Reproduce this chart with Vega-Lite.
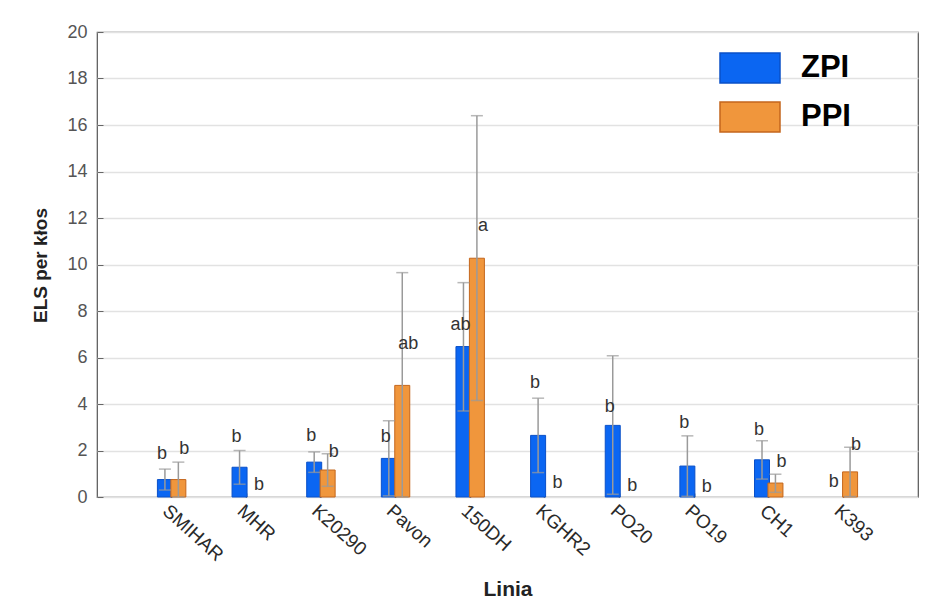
{
  "$schema": "https://vega.github.io/schema/vega-lite/v6.json",
  "width": 821,
  "height": 465,
  "autosize": {"type": "none"},
  "padding": {"left": 97, "top": 32, "right": 16, "bottom": 111},
  "background": "white",
  "config": {
    "view": {"stroke": "#555", "strokeWidth": 1.2},
    "font": "Liberation Sans"
  },
  "data": {
    "values": [
      {"linia": "SMIHAR", "grupa": "ZPI", "mean": 0.75, "lo": 0.3, "hi": 1.2, "lit": "b", "ly": 1.85},
      {"linia": "SMIHAR", "grupa": "PPI", "mean": 0.75, "lo": 0.0, "hi": 1.5, "lit": "b", "ly": 2.07},
      {"linia": "MHR", "grupa": "ZPI", "mean": 1.28, "lo": 0.55, "hi": 2.0, "lit": "b", "ly": 2.57},
      {"linia": "MHR", "grupa": "PPI", "mean": 0, "lo": null, "hi": null, "lit": "b", "ly": 0.52},
      {"linia": "K20290", "grupa": "ZPI", "mean": 1.5, "lo": 1.06, "hi": 1.94, "lit": "b", "ly": 2.62},
      {"linia": "K20290", "grupa": "PPI", "mean": 1.16, "lo": 0.46, "hi": 1.86, "lit": "b", "ly": 1.94},
      {"linia": "Pavon", "grupa": "ZPI", "mean": 1.66, "lo": 0.05, "hi": 3.28, "lit": "b", "ly": 2.58},
      {"linia": "Pavon", "grupa": "PPI", "mean": 4.8, "lo": 0.0, "hi": 9.65, "lit": "ab", "ly": 6.6},
      {"linia": "150DH", "grupa": "ZPI", "mean": 6.47, "lo": 3.7, "hi": 9.22, "lit": "ab", "ly": 7.4},
      {"linia": "150DH", "grupa": "PPI", "mean": 10.27, "lo": 4.15, "hi": 16.4, "lit": "a", "ly": 11.65},
      {"linia": "KGHR2", "grupa": "ZPI", "mean": 2.65, "lo": 1.05, "hi": 4.25, "lit": "b", "ly": 4.9},
      {"linia": "KGHR2", "grupa": "PPI", "mean": 0, "lo": null, "hi": null, "lit": "b", "ly": 0.6},
      {"linia": "PO20", "grupa": "ZPI", "mean": 3.08, "lo": 0.12, "hi": 6.07, "lit": "b", "ly": 3.87},
      {"linia": "PO20", "grupa": "PPI", "mean": 0, "lo": null, "hi": null, "lit": "b", "ly": 0.47},
      {"linia": "PO19", "grupa": "ZPI", "mean": 1.33, "lo": 0.03, "hi": 2.63, "lit": "b", "ly": 3.18},
      {"linia": "PO19", "grupa": "PPI", "mean": 0, "lo": null, "hi": null, "lit": "b", "ly": 0.43},
      {"linia": "CH1", "grupa": "ZPI", "mean": 1.6, "lo": 0.77, "hi": 2.42, "lit": "b", "ly": 2.9},
      {"linia": "CH1", "grupa": "PPI", "mean": 0.6, "lo": 0.2, "hi": 0.98, "lit": "b", "ly": 1.5},
      {"linia": "K393", "grupa": "ZPI", "mean": 0, "lo": null, "hi": null, "lit": "b", "ly": 0.65},
      {"linia": "K393", "grupa": "PPI", "mean": 1.08, "lo": 0.02, "hi": 2.14, "lit": "b", "ly": 2.24}
    ]
  },
  "encoding": {
    "x": {
      "field": "linia",
      "type": "nominal",
      "sort": ["SMIHAR", "MHR", "K20290", "Pavon", "150DH", "KGHR2", "PO20", "PO19", "CH1", "K393"],
      "scale": {"paddingInner": 0.64, "paddingOuter": 0.82},
      "axis": {
        "title": "Linia",
        "titleFontSize": 21,
        "titleFontWeight": "bold",
        "titleColor": "#222",
        "titleY": 81,
        "labelAngle": 42,
        "labelAlign": "left",
        "labelBaseline": "top",
        "labelFontSize": 19,
        "labelColor": "#2a2a2a",
        "labelPadding": 8,
        "ticks": true,
        "tickSize": -4,
        "tickColor": "#222",
        "tickWidth": 1.5,
        "domain": false,
        "grid": false
      }
    },
    "xOffset": {"field": "grupa", "type": "nominal", "sort": ["ZPI", "PPI"], "scale": {"paddingInner": 0, "paddingOuter": 0}}
  },
  "layer": [
    {
      "transform": [{"filter": "datum.mean > 0"}],
      "mark": {"type": "bar", "width": 15, "strokeWidth": 1},
      "encoding": {
        "y": {
          "field": "mean",
          "type": "quantitative",
          "title": "ELS per kłos",
          "scale": {"domain": [0, 20], "nice": false},
          "axis": {
            "titleFontSize": 19,
            "titleFontWeight": "bold",
            "titleColor": "#222",
            "titleX": -47,
            "titleY": 233,
            "values": [0, 2, 4, 6, 8, 10, 12, 14, 16, 18, 20],
            "labelFontSize": 18,
            "labelColor": "#555",
            "labelPadding": 16,
            "ticks": true,
            "tickSize": -6,
            "tickColor": "#666",
            "tickWidth": 1,
            "domain": false,
            "grid": true,
            "gridColor": "#e2e2e2",
            "gridWidth": 1.5
          }
        },
        "color": {
          "field": "grupa",
          "type": "nominal",
          "scale": {"domain": ["ZPI", "PPI"], "range": ["#0b66f2", "#f0963c"]},
          "legend": {
            "title": null,
            "orient": "none",
            "legendX": 622,
            "legendY": 5,
            "symbolType": "M-1,-0.5H1V0.5H-1Z",
            "symbolSize": 3600,
            "symbolStrokeColor": "#111",
            "symbolStrokeWidth": 1.5,
            "symbolOpacity": 1,
            "labelFontSize": 31,
            "labelFontWeight": "bold",
            "labelColor": "#000",
            "labelOffset": 20,
            "rowPadding": -1,
            "padding": 0
          }
        },
        "stroke": {
          "field": "grupa",
          "type": "nominal",
          "scale": {"domain": ["ZPI", "PPI"], "range": ["#0a50c8", "#c4661c"]},
          "legend": null
        }
      }
    },
    {
      "transform": [{"filter": "datum.hi != null"}],
      "mark": {"type": "rule", "color": "#9a9a9a", "strokeWidth": 1.5},
      "encoding": {
        "y": {"field": "lo", "type": "quantitative", "title": "ELS per kłos"},
        "y2": {"field": "hi"}
      }
    },
    {
      "transform": [{"filter": "datum.hi != null"}],
      "mark": {"type": "tick", "color": "#9a9a9a", "size": 12, "thickness": 1.5, "orient": "horizontal"},
      "encoding": {
        "y": {"field": "hi", "type": "quantitative", "title": "ELS per kłos"}
      }
    },
    {
      "transform": [{"filter": "datum.hi != null"}],
      "mark": {"type": "tick", "color": "#9a9a9a", "size": 12, "thickness": 1.5, "orient": "horizontal"},
      "encoding": {
        "y": {"field": "lo", "type": "quantitative", "title": "ELS per kłos"}
      }
    },
    {
      "transform": [{"filter": "datum.grupa == 'ZPI'"}],
      "mark": {"type": "text", "fontSize": 18, "color": "#333", "dx": -3, "align": "center", "baseline": "middle"},
      "encoding": {
        "y": {"field": "ly", "type": "quantitative", "title": "ELS per kłos"},
        "text": {"field": "lit"}
      }
    },
    {
      "transform": [{"filter": "datum.grupa == 'PPI'"}],
      "mark": {"type": "text", "fontSize": 18, "color": "#333", "dx": 6, "align": "center", "baseline": "middle"},
      "encoding": {
        "y": {"field": "ly", "type": "quantitative", "title": "ELS per kłos"},
        "text": {"field": "lit"}
      }
    }
  ]
}
